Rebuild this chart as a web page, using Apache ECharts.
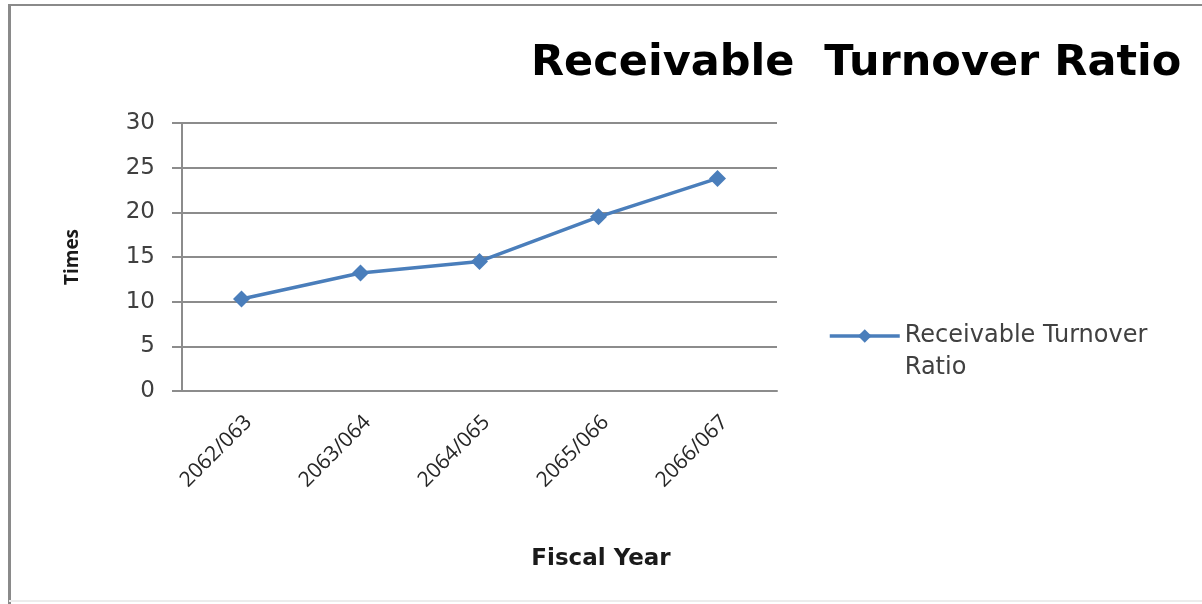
<!DOCTYPE html>
<html>
<head>
<meta charset="utf-8">
<script src="https://cdn.jsdelivr.net/npm/echarts@6/dist/echarts.min.js"></script>
<style>
  html, body { margin: 0; padding: 0; background: #ffffff; }
  #chart { width: 1202px; height: 604px; }
</style>
</head>
<body>
<div id="chart"></div>
<script>
// Fiscal years (Nepali calendar) and the receivable turnover ratio for each
const fiscalYears = ['2062/063', '2063/064', '2064/065', '2065/066', '2066/067'];
const turnoverRatio = [10.3, 13.2, 14.5, 19.5, 23.8];
const seriesName = 'Receivable Turnover Ratio';
const yTicks = { min: 0, max: 30, step: 5 };

const WIDE = 'DejaVu Sans';
const FONT = 'Open Sans';
const lineBlue = '#4A7EBB';
const gridGray = '#8c8c8c';

const chart = echarts.init(document.getElementById('chart'), null, { renderer: 'canvas' });

chart.setOption({
  backgroundColor: '#ffffff',
  animation: false,
  textStyle: { fontFamily: FONT },
  title: [
    {
      text: 'Receivable  Turnover Ratio',
      left: 526,
      top: 37,
      textStyle: { fontFamily: WIDE, fontWeight: 'bold', fontSize: 43, color: '#000000' }
    },
    {
      text: 'Fiscal Year',
      left: 596,
      top: 543,
      textAlign: 'center',
      textStyle: { fontFamily: WIDE, fontWeight: 'bold', fontSize: 23, color: '#1a1a1a' }
    }
  ],
  legend: {
    data: [seriesName],
    orient: 'vertical',
    left: 828,
    top: 288,
    padding: 0,
    itemWidth: 70,
    itemHeight: 17,
    itemGap: 4,
    lineStyle: { width: 3.5 },
    // leading blank line keeps the icon level with the first text line
    formatter: () => ' \nReceivable Turnover\nRatio',
    textStyle: {
      fontFamily: WIDE,
      fontSize: 24,
      color: '#404040',
      lineHeight: 32
    }
  },
  grid: {
    left: 182,
    right: 425,
    top: 123,
    bottom: 213,
    containLabel: false
  },
  xAxis: {
    type: 'category',
    data: fiscalYears,
    boundaryGap: true,
    axisLine: { show: true, lineStyle: { color: gridGray, width: 2 } },
    axisTick: { show: false },
    axisLabel: {
      rotate: 45,
      margin: 35,
      fontFamily: FONT,
      fontSize: 21,
      color: '#262626',
      padding: [0, -10, 0, 0]
    },
    splitLine: { show: false }
  },
  yAxis: {
    type: 'value',
    min: yTicks.min,
    max: yTicks.max,
    interval: yTicks.step,
    name: 'Times',
    nameLocation: 'middle',
    nameGap: 100,
    nameRotate: 90,
    nameTextStyle: { fontFamily: FONT, fontWeight: 'bold', fontSize: 19, color: '#1a1a1a' },
    axisLine: { show: true, lineStyle: { color: gridGray, width: 2 } },
    axisTick: { show: true, length: 10, lineStyle: { color: gridGray, width: 2 } },
    axisLabel: {
      margin: 27,
      fontFamily: WIDE,
      fontSize: 23,
      color: '#404040'
    },
    splitLine: { show: true, lineStyle: { color: gridGray, width: 2 } }
  },
  series: [
    {
      name: seriesName,
      type: 'line',
      data: turnoverRatio,
      symbol: 'diamond',
      symbolSize: 17,
      itemStyle: { color: lineBlue },
      lineStyle: { color: lineBlue, width: 3.5 }
    }
  ],
  graphic: [
    // outer frame of the chart area
    { type: 'line', shape: { x1: 9, y1: 5, x2: 1202, y2: 5 }, style: { stroke: '#8a8a8a', lineWidth: 2 } },
    { type: 'line', shape: { x1: 9.5, y1: 4, x2: 9.5, y2: 604 }, style: { stroke: '#8a8a8a', lineWidth: 3 } },
    { type: 'line', shape: { x1: 9, y1: 601, x2: 1202, y2: 601 }, style: { stroke: '#ececec', lineWidth: 2 } }
  ]
});
</script>
</body>
</html>
